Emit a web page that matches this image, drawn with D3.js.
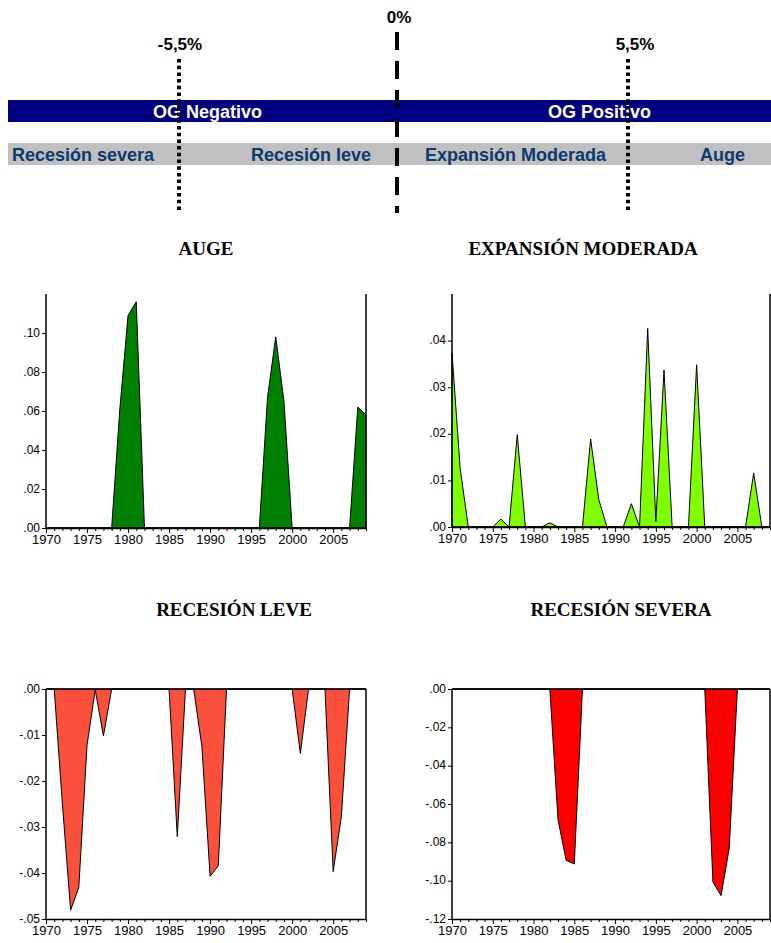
<!DOCTYPE html>
<html>
<head>
<meta charset="utf-8">
<script src="https://cdn.jsdelivr.net/npm/d3@7"></script>
<style>
  body { margin: 0; background: #fff; }
  svg { display: block; }
</style>
</head>
<body>
<svg width="771" height="943"></svg>
<script>
var years = [1970,1971,1972,1973,1974,1975,1976,1977,1978,1979,
             1980,1981,1982,1983,1984,1985,1986,1987,1988,1989,
             1990,1991,1992,1993,1994,1995,1996,1997,1998,1999,
             2000,2001,2002,2003,2004,2005,2006,2007,2008,2009];

var auge = [0,0,0,0,0,0,0,0,0,0.061,
            0.109,0.116,0,0,0,0,0,0,0,0,
            0,0,0,0,0,0,0,0.067,0.098,0.065,
            0,0,0,0,0,0,0,0,0.062,0.058];

var expansion = [0.0374,0.0126,0,0,0,0,0.0017,0,0.0198,0,
                 0,0,0.0009,0,0,0,0,0.0189,0.0059,0,
                 0,0,0.005,0,0.0426,0.0012,0.0337,0,0,0,
                 0.0348,0,0,0,0,0,0,0.0116,0,0];

var recesionLeve = [0,0,-0.025,-0.0481,-0.0431,-0.0122,-0.0002,-0.0102,0,0,
                    0,0,0,0,0,0,-0.0321,0,0,-0.0125,
                    -0.0407,-0.0384,0,0,0,0,0,0,0,0,
                    0,-0.014,0,0,0,-0.0397,-0.0277,0,0,0];

var recesionSevera = [0,0,0,0,0,0,0,0,0,0,
                      0,0,0,-0.0682,-0.0894,-0.0913,0,0,0,0,
                      0,0,0,0,0,0,0,0,0,0,
                      0,0,-0.1007,-0.1078,-0.083,0,0,0,0,0];

var yearLabels = [1970,1975,1980,1985,1990,1995,2000,2005];

var augeTicks = [0,0.02,0.04,0.06,0.08,0.10],
    expansionTicks = [0,0.01,0.02,0.03,0.04],
    leveTicks = [0,-0.01,-0.02,-0.03,-0.04,-0.05],
    severaTicks = [0,-0.02,-0.04,-0.06,-0.08,-0.10,-0.12];

// threshold diagram
var thresholds = ["-5,5%", "0%", "5,5%"],
    gapLabels = ["OG Negativo", "OG Positivo"],
    phaseLabels = ["Recesión severa", "Recesión leve", "Expansión Moderada", "Auge"];

var svg = d3.select("svg"),
    sans = "'Liberation Sans', Arial, sans-serif",
    serif = "'Liberation Serif', 'Times New Roman', serif";

var diagram = svg.append("g");

diagram.append("rect").attr("x", 8).attr("y", 100).attr("width", 763).attr("height", 22).attr("fill", "#000080");
diagram.append("rect").attr("x", 8).attr("y", 143).attr("width", 763).attr("height", 22).attr("fill", "#c0c0c0");

diagram.selectAll("text.gap")
    .data(gapLabels)
  .enter().append("text")
    .attr("class", "gap")
    .attr("x", function(d, i) { return [153, 548][i]; })
    .attr("y", 118)
    .attr("fill", "#fff")
    .attr("font-family", sans)
    .attr("font-weight", "bold")
    .attr("font-size", 18)
    .text(function(d) { return d; });

diagram.selectAll("text.phase")
    .data(phaseLabels)
  .enter().append("text")
    .attr("class", "phase")
    .attr("x", function(d, i) { return [12, 251, 425, 700][i]; })
    .attr("y", 161)
    .attr("fill", "#0a3a6e")
    .attr("font-family", sans)
    .attr("font-weight", "bold")
    .attr("font-size", 18)
    .text(function(d) { return d; });

// threshold lines
diagram.append("line").attr("x1", 397).attr("x2", 397).attr("y1", 32).attr("y2", 213)
    .attr("stroke", "#000").attr("stroke-width", 4).attr("stroke-dasharray", "18,11");
[179, 628].forEach(function(x) {
  diagram.append("line").attr("x1", x).attr("x2", x).attr("y1", 59).attr("y2", 212)
      .attr("stroke", "#000").attr("stroke-width", 4).attr("stroke-dasharray", "3.5,3.2");
});

diagram.selectAll("text.thr")
    .data(thresholds)
  .enter().append("text")
    .attr("class", "thr")
    .attr("x", function(d, i) { return [180, 399, 635][i]; })
    .attr("y", function(d, i) { return [50, 23, 50][i]; })
    .attr("text-anchor", "middle")
    .attr("font-family", sans)
    .attr("font-weight", "bold")
    .attr("font-size", 17)
    .text(function(d) { return d; });

var fmt = function(v) {
  var s = d3.format(".2f")(Math.abs(v)).replace(/^0/, "");
  return (v < 0 ? "-" : "") + s;
};

function panel(cfg) {
  var x = d3.scaleLinear().domain([1970, 2009]).range([cfg.left, cfg.right]),
      y = d3.scaleLinear().domain(cfg.domain).range([cfg.bottom, cfg.top]);

  var g = svg.append("g");

  g.append("text")
      .attr("x", cfg.titleX)
      .attr("y", cfg.titleY)
      .attr("text-anchor", "middle")
      .attr("font-family", serif)
      .attr("font-weight", "bold")
      .attr("font-size", 19)
      .text(cfg.title);

  var area = d3.area()
      .x(function(d, i) { return x(years[i]); })
      .y0(y(0))
      .y1(function(d) { return y(d); });

  g.append("path")
      .datum(cfg.values)
      .attr("d", area)
      .attr("fill", cfg.color)
      .attr("stroke", "#000")
      .attr("stroke-width", 1)
      .attr("stroke-linejoin", "miter");

  // zero line
  g.append("line")
      .attr("x1", cfg.left).attr("x2", cfg.right)
      .attr("y1", y(0)).attr("y2", y(0))
      .attr("stroke", "#000").attr("stroke-width", 1.5);

  // right border
  g.append("line")
      .attr("x1", cfg.right).attr("x2", cfg.right)
      .attr("y1", cfg.top).attr("y2", cfg.bottom)
      .attr("stroke", "#000").attr("stroke-width", 1.5);

  var ya = g.append("g")
      .attr("transform", "translate(" + cfg.left + ",0)")
      .call(d3.axisLeft(y).tickValues(cfg.ticks).tickSize(4).tickPadding(2).tickSizeOuter(0).tickFormat(fmt));
  ya.select(".domain").attr("d", "M0," + cfg.top + "V" + cfg.bottom).attr("stroke-width", 1.5);
  ya.attr("font-family", sans).attr("font-size", 12);
  ya.selectAll("text").attr("fill", "#000").attr("dy", "0.25em");

  var xa = g.append("g")
      .attr("transform", "translate(0," + cfg.bottom + ")")
      .call(d3.axisBottom(x).tickValues(years).tickSize(3).tickPadding(4).tickSizeOuter(0)
        .tickFormat(function(d) { return yearLabels.indexOf(d) >= 0 ? d : ""; }));
  xa.selectAll(".tick line")
      .attr("y2", function(d) { return yearLabels.indexOf(d) >= 0 ? 5 : 3; });
  xa.select(".domain").attr("stroke-width", 1.5);
  xa.attr("font-family", sans).attr("font-size", 13);
  xa.selectAll("text").attr("fill", "#000");
}

panel({ title: "AUGE", titleX: 206, titleY: 255, values: auge, color: "#008000",
        domain: [0, 0.12], ticks: augeTicks, left: 46, right: 366, top: 294, bottom: 528 });
panel({ title: "EXPANSIÓN MODERADA", titleX: 583, titleY: 255, values: expansion, color: "#80ff00",
        domain: [0, 0.05], ticks: expansionTicks, left: 452, right: 770, top: 294, bottom: 527 });
panel({ title: "RECESIÓN LEVE", titleX: 234, titleY: 616, values: recesionLeve, color: "#fa503c",
        domain: [-0.05, 0], ticks: leveTicks, left: 46, right: 366, top: 689, bottom: 919 });
panel({ title: "RECESIÓN SEVERA", titleX: 621, titleY: 616, values: recesionSevera, color: "#ff0000",
        domain: [-0.12, 0], ticks: severaTicks, left: 452, right: 770, top: 689, bottom: 919 });
</script>
</body>
</html>
